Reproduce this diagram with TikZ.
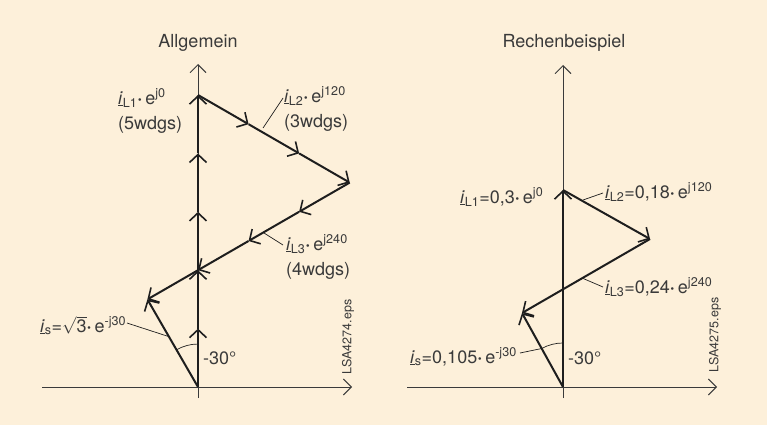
\documentclass[tikz,border=0pt]{standalone}
\usepackage{fontspec}
\setmainfont{TeX Gyre Heros}
\usetikzlibrary{arrows.meta,positioning,calc}
\definecolor{paper}{HTML}{FDF0DA}
\definecolor{ink}{HTML}{1E1E1E}
\definecolor{txt}{HTML}{3A3A3A}
\newcommand{\iv}[1]{\underline{\textit{i}}\textsubscript{#1}}
\newcommand{\ej}[1]{\textbf{·}\,e\textsuperscript{#1}}

\begin{document}
\begin{tikzpicture}[
    x=1pt, y=-1pt,
    font=\fontsize{18}{25}\selectfont,
    ax/.style={draw=txt, line width=0.9pt,
      -{Straight Barb[length=8pt,width=16pt,line width=0.9pt]}},
    vec/.style={draw=ink, line width=2pt,
      -{Straight Barb[length=8pt,width=17pt,line width=1.6pt]}},
    lead/.style={draw=ink, line width=0.7pt},
    lbl/.style={text=txt, inner sep=0pt, align=left},
    file/.style={text=txt, inner sep=0pt, rotate=90,
      font=\fontsize{12.5}{14}\selectfont}
  ]
    \fill[paper] (0,0) rectangle (767,425);
    \useasboundingbox (0,0) rectangle (767,425);

    % Allgemein
    \node[lbl, anchor=base] (aH) at (198,48) {Allgemein};
    \coordinate (aO) at (198,387);
    \coordinate (aW) at (42,387);
    \coordinate (aE) at (352,387);
    \coordinate (aS) at (198,398);
    \coordinate (aN) at (198,64);
    \coordinate (aL1) at (198,95);
    \coordinate (aL2) at (349.7,182.6);
    \coordinate (aL3) at (147.4,299.4);
    \draw[ax] (aW) -- (aE);
    \draw[ax] (aS) -- (aN);

    \foreach \k in {1,...,5}
      \draw[vec] ($(aO)!{(\k-1)/5}!(aL1)$) -- ($(aO)!{\k/5}!(aL1)$);
    \foreach \k in {1,2,3}
      \draw[vec] ($(aL1)!{(\k-1)/3}!(aL2)$) -- ($(aL1)!{\k/3}!(aL2)$);
    \foreach \k in {1,...,4}
      \draw[vec] ($(aL2)!{(\k-1)/4}!(aL3)$) -- ($(aL2)!{\k/4}!(aL3)$);
    \draw[vec] (aO) -- (aL3);

    \node[lbl, anchor=west] (aT1) at (118,111) {\iv{L1}\ej{j0}\\(5wdgs)};
    \node[lbl, anchor=west] (aT2) at (284,109) {\iv{L2}\ej{j120}\\(3wdgs)};
    \node[lbl, anchor=west] (aT3) at (286,257) {\iv{L3}\ej{j240}\\(4wdgs)};
    \node[lbl, anchor=base west] (aTs) at (40,332) {\iv{s}=$\sqrt{\mbox{3}}$\ej{-j30}};
    \node[lbl, anchor=base west] (aDeg) at (203,364) {-30°};
    \node[file] (aF) at (348,337) {LSA4274.eps};

    \coordinate (aP2) at (263,128);
    \coordinate (aQ2) at (283,98);
    \coordinate (aP3) at (264,233);
    \coordinate (aQ3) at (283,245);
    \coordinate (aPs) at (170,337);
    \coordinate (aQs) at (127,323);
    \coordinate (aA) at ($(aO)+(-21.5,-37.2)$);
    \draw[lead] (aP2) -- (aQ2);
    \draw[lead] (aP3) -- (aQ3);
    \draw[lead] (aPs) -- (aQs);
    \draw[lead] (aA) arc[start angle=120, end angle=90, radius=43pt];

    % Rechenbeispiel
    \node[lbl, anchor=base] (rH) at (564,48) {Rechenbeispiel};
    \coordinate (rO) at (563,387);
    \coordinate (rW) at (407,387);
    \coordinate (rE) at (717,387);
    \coordinate (rS) at (563,398);
    \coordinate (rN) at (563,65);
    \coordinate (rL1) at (563,190);
    \coordinate (rL2) at (650,239);
    \coordinate (rL3) at (522,313);
    \draw[ax] (rW) -- (rE);
    \draw[ax] (rS) -- (rN);

    \draw[vec] (rO) -- (rL1);
    \draw[vec] (rL1) -- (rL2);
    \draw[vec] (rL2) -- (rL3);
    \draw[vec] (rO) -- (rL3);

    \node[lbl, anchor=base west] (rT1) at (460,203) {\iv{L1}=0,3\ej{j0}};
    \node[lbl, anchor=base west] (rT2) at (605,198) {\iv{L2}=0,18\ej{j120}};
    \node[lbl, anchor=base west] (rT3) at (605,293) {\iv{L3}=0,24\ej{j240}};
    \node[lbl, anchor=base west] (rTs) at (410,363) {\iv{s}=0,105\ej{-j30}};
    \node[lbl, anchor=base west] (rDeg) at (568,364) {-30°};
    \node[file] (rF) at (715,335) {LSA4275.eps};

    \coordinate (rP2) at (583,200);
    \coordinate (rQ2) at (603,193);
    \coordinate (rP3) at (582,278);
    \coordinate (rQ3) at (603,287);
    \coordinate (rQs) at (520,353);
    \coordinate (rA) at ($(rO)+(-21.3,-38.5)$);
    \draw[lead] (rP2) -- (rQ2);
    \draw[lead] (rP3) -- (rQ3);
    \draw[lead] (rQs) -- (rA) arc[start angle=119, end angle=90, radius=44pt];
\end{tikzpicture}
\end{document}
